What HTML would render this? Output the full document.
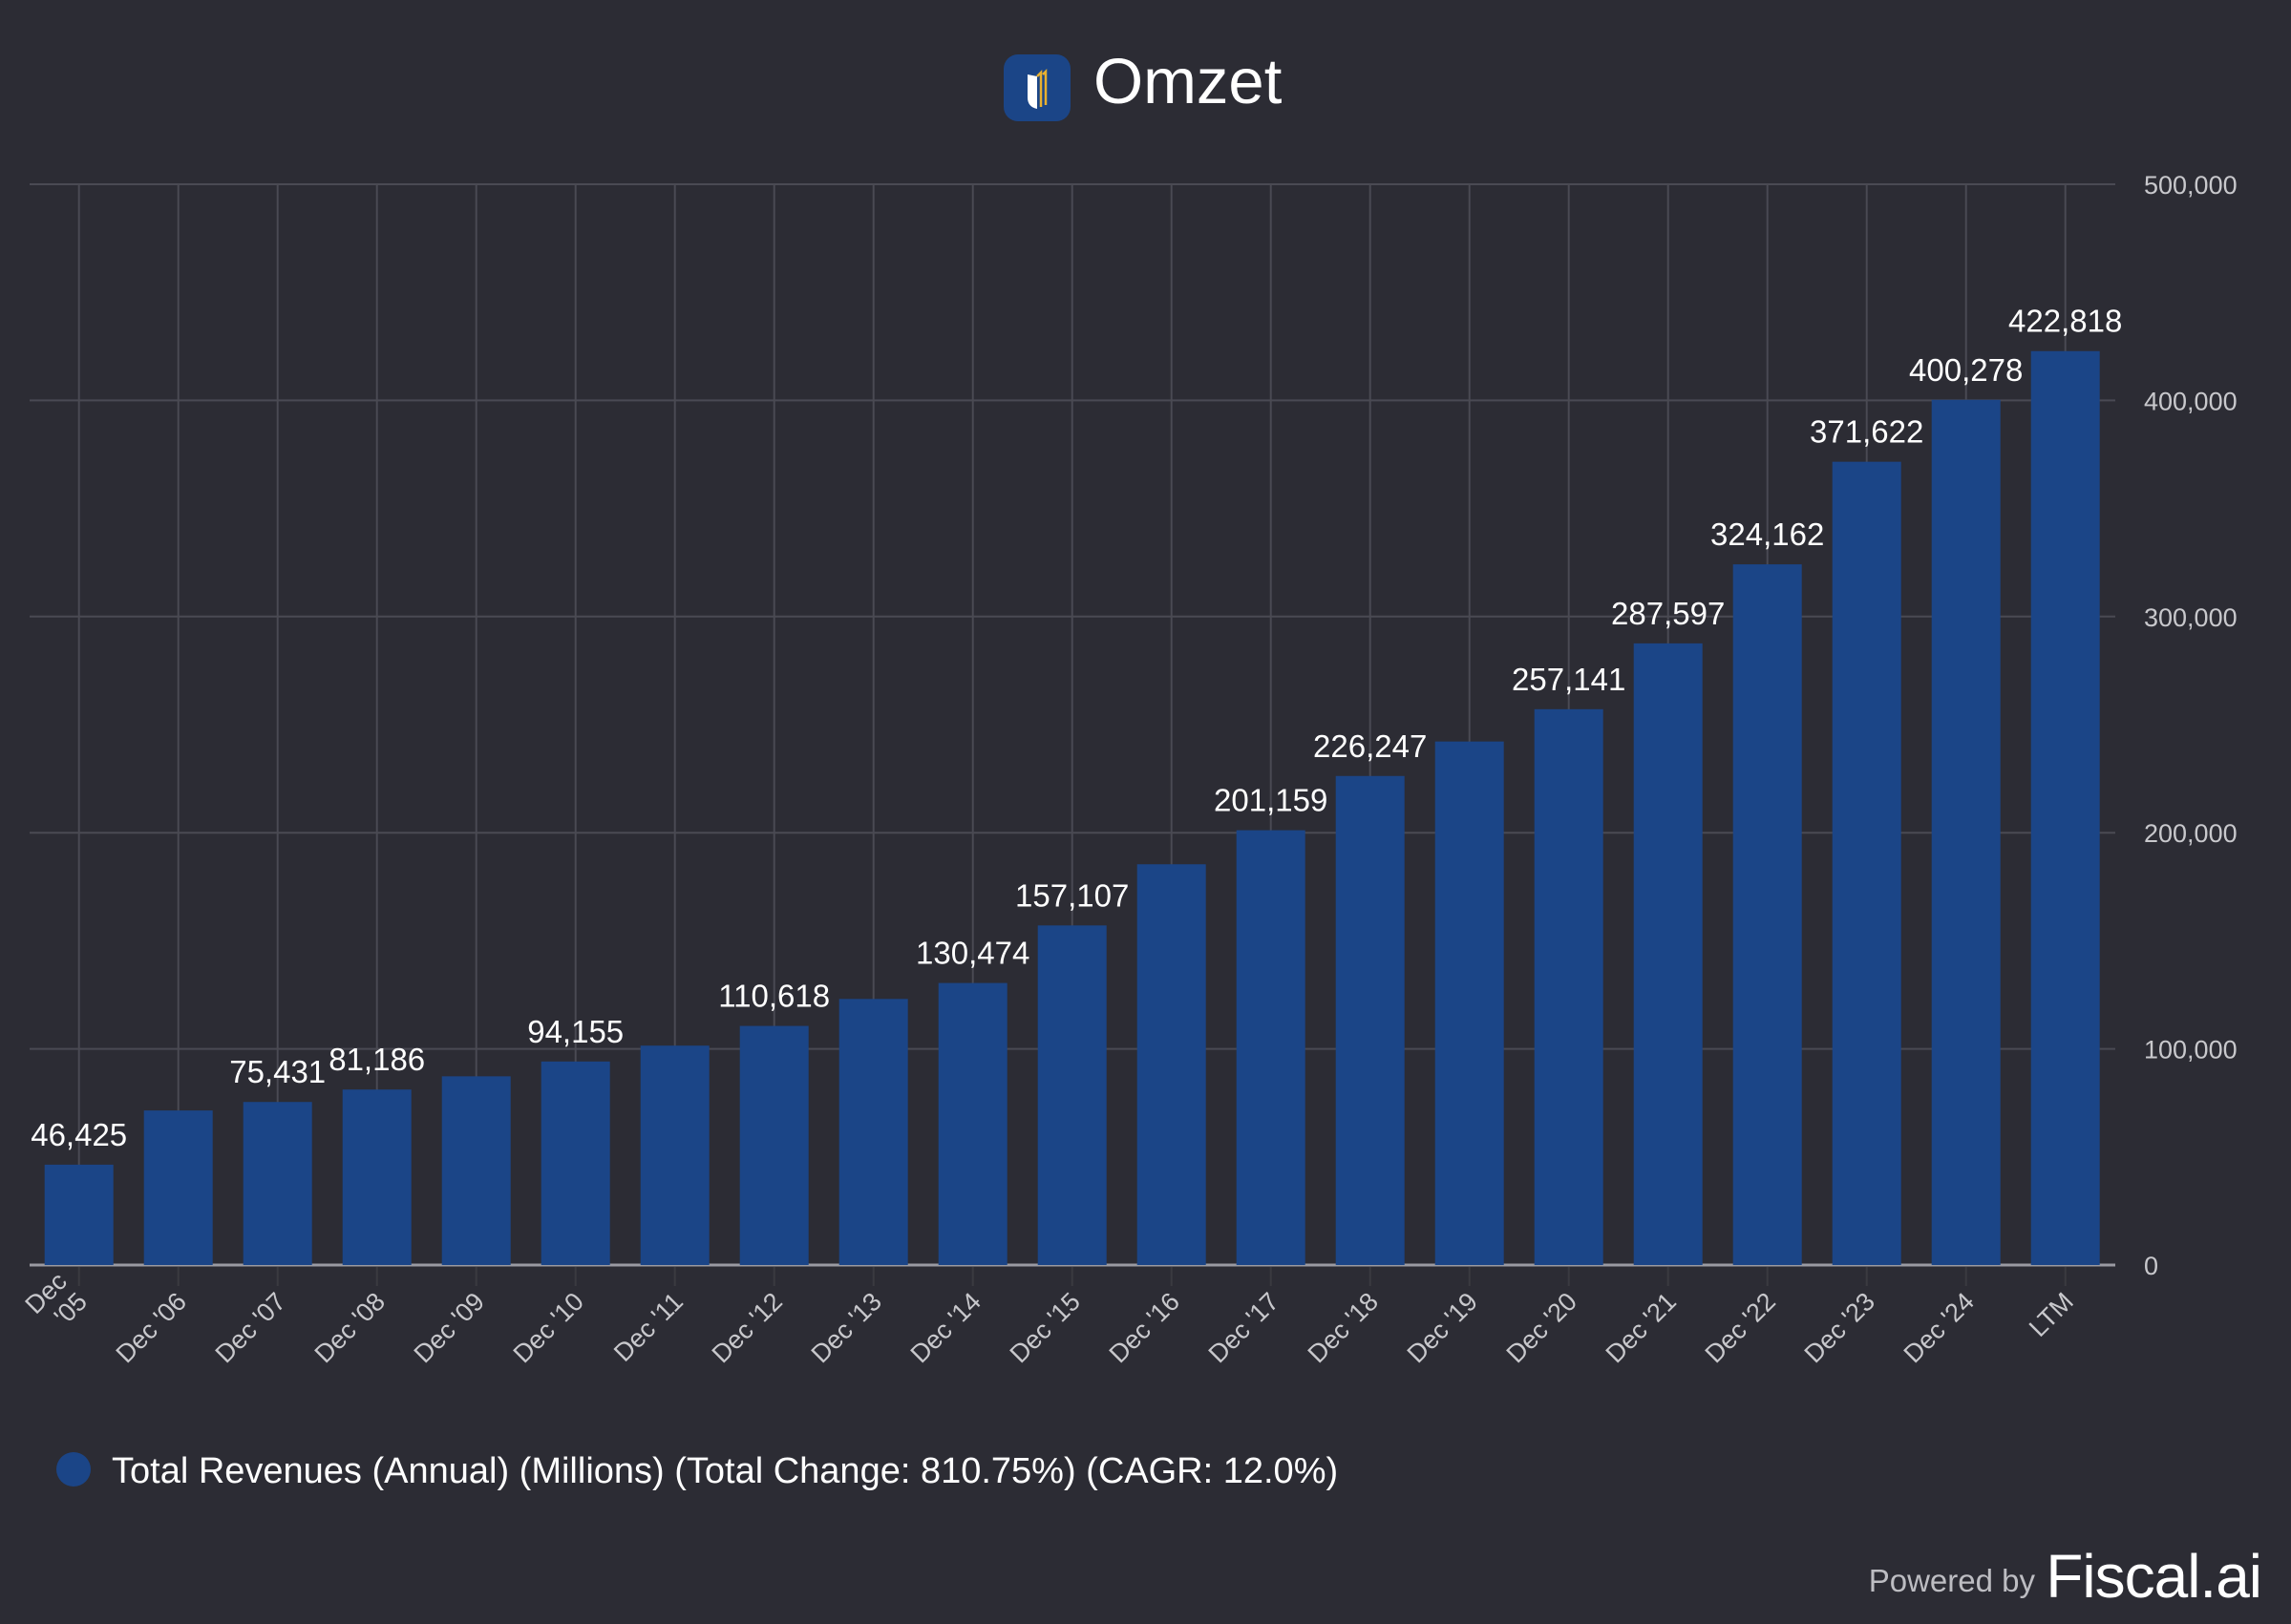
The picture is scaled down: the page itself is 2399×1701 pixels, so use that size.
<!DOCTYPE html>
<html><head><meta charset="utf-8">
<style>
html,body{margin:0;padding:0;background:#2c2c34;}
svg{display:block;font-family:"Liberation Sans",sans-serif;}
</style></head>
<body>
<svg id="chart" width="2399" height="1701" viewBox="0 0 2399 1701" xmlns="http://www.w3.org/2000/svg">
<rect width="2399" height="1701" fill="#2c2c34"/>
<g>
  <rect x="1051" y="57" width="70" height="70" rx="15" fill="#1b4587"/>
  <path d="M1076 78 L1076 102 Q1076 112 1086 114 L1086 80 Z" fill="#fff"/>
  <path d="M1086 80 L1090 76 L1090 112 M1092 78 L1095 75 L1095 110" stroke="#e8b030" stroke-width="2.5" fill="none"/>
  <text x="1145" y="108" font-size="67" fill="#ffffff">Omzet</text>
</g>
<g id="grid"></g>
<g id="bars"></g>
<g id="labels"></g>
<g id="xlabels"></g>
<g id="ylabels"></g>
<g>
  <circle cx="77" cy="1539" r="18" fill="#1b4587"/>
  <text x="117" y="1553" font-size="38" fill="#ffffff">Total Revenues (Annual) (Millions) (Total Change: 810.75%) (CAGR: 12.0%)</text>
</g>
<g>
  <text x="2131" y="1667" font-size="33" fill="#bdbdc2" text-anchor="end">Powered by</text>
  <text x="2368" y="1673" font-size="64" fill="#ffffff" text-anchor="end" letter-spacing="-1">Fiscal.ai</text>
</g>
</svg>
<script>
var categories = ["Dec '05","Dec '06","Dec '07","Dec '08","Dec '09","Dec '10","Dec '11","Dec '12","Dec '13","Dec '14","Dec '15","Dec '16","Dec '17","Dec '18","Dec '19","Dec '20","Dec '21","Dec '22","Dec '23","Dec '24","LTM"];
var values = [46425,71500,75431,81186,87300,94155,101500,110618,123100,130474,157107,185400,201159,226247,242200,257141,287597,324162,371622,400278,422818];
var showLabel = [1,0,1,1,0,1,0,1,0,1,1,0,1,1,0,1,1,1,1,1,1];
var yTicks = [0,100000,200000,300000,400000,500000];

var NS = "http://www.w3.org/2000/svg";
var plotL = 31, plotR = 2215, plotT = 193, plotB = 1325;
var firstX = 82.7, pitch = 104, barW = 72;
var yMax = 500000;
function xPos(i){ return firstX + i*pitch; }
function yPos(v){ return plotB - (v/yMax)*(plotB-plotT); }
function mk(tag, attrs, parent){ var e=document.createElementNS(NS,tag); for(var k in attrs) e.setAttribute(k,String(attrs[k])); parent.appendChild(e); return e; }
function fmt(v){ return String(v).replace(/\B(?=(\d{3})+(?!\d))/g, ","); }

var grid = document.getElementById("grid");
var ylab = document.getElementById("ylabels");
var bars = document.getElementById("bars");
var labs = document.getElementById("labels");
var xl = document.getElementById("xlabels");

for (var a = 0; a < yTicks.length; a++) {
  var t = yTicks[a];
  var gl = mk("line",{x1:plotL,x2:plotR,y1:yPos(t),y2:yPos(t),stroke:t===0?"#9a9aa2":"#4a4a53","stroke-width":t===0?3:2},grid);
  
  
  var ty = mk("text",{x:2245,y:yPos(t)+10,"font-size":27,fill:"#c8c8cc"},ylab);
  ty.textContent = fmt(t);
  
  
}
for (var i = 0; i < categories.length; i++) {
  var vl = mk("line",{x1:xPos(i),x2:xPos(i),y1:plotT,y2:plotB,stroke:"#4a4a53","stroke-width":2},grid);
  
  
  var tk = mk("line",{x1:xPos(i),x2:xPos(i),y1:plotB+2,y2:plotB+22,stroke:"#3a3a40","stroke-width":2},grid);
  
  
}
for (var j = 0; j < values.length; j++) {
  var v = values[j];
  var r = mk("rect",{x:xPos(j)-barW/2,y:yPos(v),width:barW,height:plotB-yPos(v),fill:"#1b4587"},bars);
  
  
}
for (var m = 0; m < values.length; m++) {
  if (showLabel[m]) {
    var lt = mk("text",{x:xPos(m),y:yPos(values[m])-20,"font-size":33,fill:"#ffffff","text-anchor":"middle"},labs);
    lt.textContent = fmt(values[m]);
    
    
  }
}
for (var n = 0; n < categories.length; n++) {
  var xt = mk("text",{transform:"translate(" + (xPos(n)+10) + "," + (plotB+40) + ") rotate(-45)","font-size":27,fill:"#c8c8cc","text-anchor":"end"},xl);
  
  
  if (n === 0) {
    var s1 = mk("tspan",{x:0,dy:-30},xt); s1.textContent = "Dec";
    var s2 = mk("tspan",{x:0,dy:30},xt); s2.textContent = "'05";
  } else {
    xt.textContent = categories[n];
  }
}
</script>
</body></html>
